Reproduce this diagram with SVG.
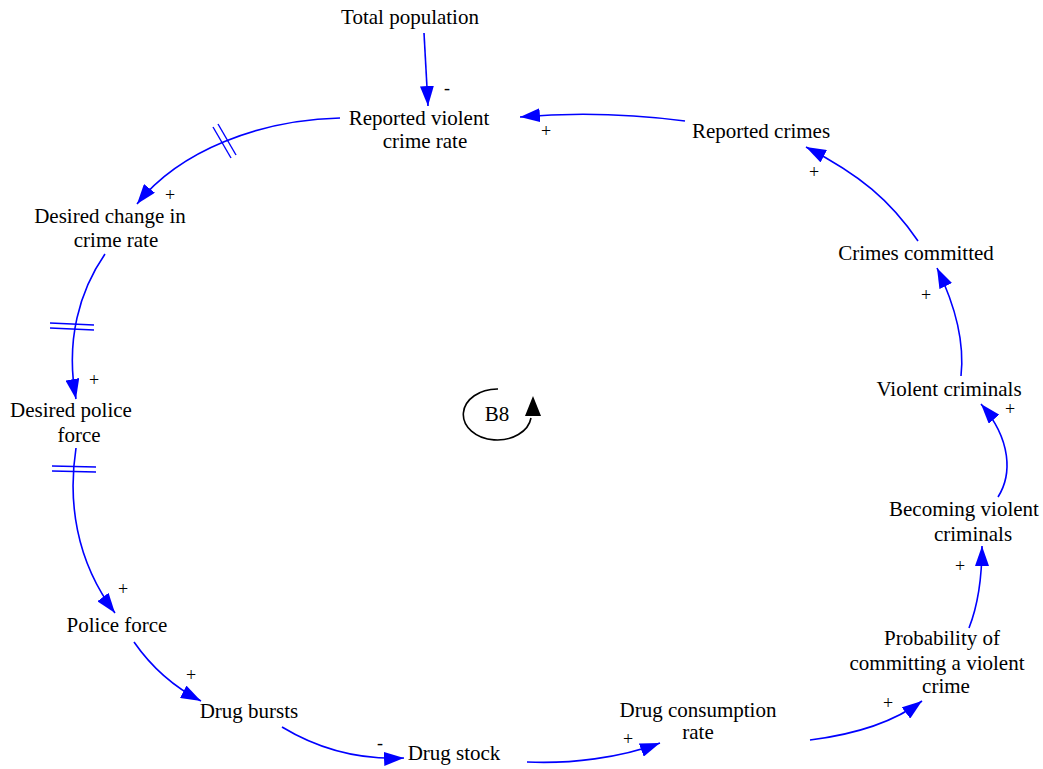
<svg xmlns="http://www.w3.org/2000/svg" width="1043" height="769" viewBox="0 0 1043 769">
  <style>
    .lbl { font-size: 21px; fill: #000; text-anchor: middle; }
    .sign { font-size: 18px; fill: #000; text-anchor: middle; }
    .link { fill: none; stroke: #0000ff; stroke-width: 1.6; marker-end: url(#arrow); }
    .hash { stroke: #0000ff; stroke-width: 1.4; fill: none; }
  </style>
  <defs>
    <marker id="arrow" markerUnits="userSpaceOnUse" markerWidth="22" markerHeight="14" refX="20" refY="7" orient="auto">
      <path d="M0,0 L20,7 L0,14 z" fill="#0000ff"/>
    </marker>
  </defs>
  <rect width="1043" height="769" fill="#fff"/>

  <g id="connectors">
    <path class="link" d="M424,33 L428,106"/>
    <path class="link" d="M685,121 Q600,110 520,117"/>
    <path class="link" d="M340,118 C260,120 180,150 137,204"/>
    <line class="hash" x1="213" y1="127" x2="231" y2="158"/>
    <line class="hash" x1="218" y1="124" x2="236" y2="155"/>
    <path class="link" d="M105,254 C80,290 65,340 76,399"/>
    <line class="hash" x1="50" y1="323" x2="94" y2="325"/>
    <line class="hash" x1="50" y1="328" x2="94" y2="330"/>
    <path class="link" d="M76,448 C68,500 75,560 115,613"/>
    <line class="hash" x1="52" y1="466" x2="96" y2="467"/>
    <line class="hash" x1="52" y1="471" x2="96" y2="472"/>
    <path class="link" d="M134,642 C150,665 170,685 201,701"/>
    <path class="link" d="M282,727 C320,750 360,760 404,758"/>
    <path class="link" d="M527,762 C570,764 620,758 660,743"/>
    <path class="link" d="M810,740 C850,735 890,725 922,701"/>
    <path class="link" d="M969,628 C978,605 982,580 982,546"/>
    <path class="link" d="M998,497 C1012,475 1012,440 981,404"/>
    <path class="link" d="M961,376 C965,340 955,305 937,268"/>
    <path class="link" d="M918,241 C890,200 860,175 806,147"/>
  </g>

  <g font-family="Liberation Serif, Times New Roman, serif">
    <g id="polarities">
      <text class="sign" x="447" y="94">-</text>
      <text class="sign" x="546" y="137">+</text>
      <text class="sign" x="170" y="201">+</text>
      <text class="sign" x="94" y="386">+</text>
      <text class="sign" x="123" y="595">+</text>
      <text class="sign" x="191" y="681">+</text>
      <text class="sign" x="380" y="749">-</text>
      <text class="sign" x="628" y="745">+</text>
      <text class="sign" x="888" y="709">+</text>
      <text class="sign" x="960" y="572">+</text>
      <text class="sign" x="1010" y="415">+</text>
      <text class="sign" x="926" y="301">+</text>
      <text class="sign" x="814" y="178">+</text>
    </g>

    <g id="total-population"><text class="lbl" x="410" y="24">Total population</text></g>
    <g id="reported-violent-crime-rate"><text class="lbl" x="419" y="125">Reported violent</text><text class="lbl" x="425" y="148">crime rate</text></g>
    <g id="reported-crimes"><text class="lbl" x="761" y="138">Reported crimes</text></g>
    <g id="desired-change-in-crime-rate"><text class="lbl" x="110" y="223">Desired change in</text><text class="lbl" x="116" y="247">crime rate</text></g>
    <g id="desired-police-force"><text class="lbl" x="71" y="417">Desired police</text><text class="lbl" x="79" y="442">force</text></g>
    <g id="police-force"><text class="lbl" x="117" y="632">Police force</text></g>
    <g id="drug-bursts"><text class="lbl" x="249" y="718">Drug bursts</text></g>
    <g id="drug-stock"><text class="lbl" x="454" y="760">Drug stock</text></g>
    <g id="drug-consumption-rate"><text class="lbl" x="698" y="717">Drug consumption</text><text class="lbl" x="698" y="739">rate</text></g>
    <g id="probability-violent-crime"><text class="lbl" x="942" y="645">Probability of</text><text class="lbl" x="937" y="670">committing a violent</text><text class="lbl" x="946" y="693">crime</text></g>
    <g id="becoming-violent-criminals"><text class="lbl" x="964" y="516">Becoming violent</text><text class="lbl" x="973" y="541">criminals</text></g>
    <g id="violent-criminals"><text class="lbl" x="949" y="396">Violent criminals</text></g>
    <g id="crimes-committed"><text class="lbl" x="916" y="260">Crimes committed</text></g>

    <g id="loop-b8">
      <path d="M498,389 A34,25.5 0 1 0 531,418" fill="none" stroke="#000" stroke-width="1.6"/>
      <polygon points="525,416 541,416 533,396" fill="#000"/>
      <text class="lbl" x="497" y="421">B8</text>
    </g>
  </g>
</svg>
